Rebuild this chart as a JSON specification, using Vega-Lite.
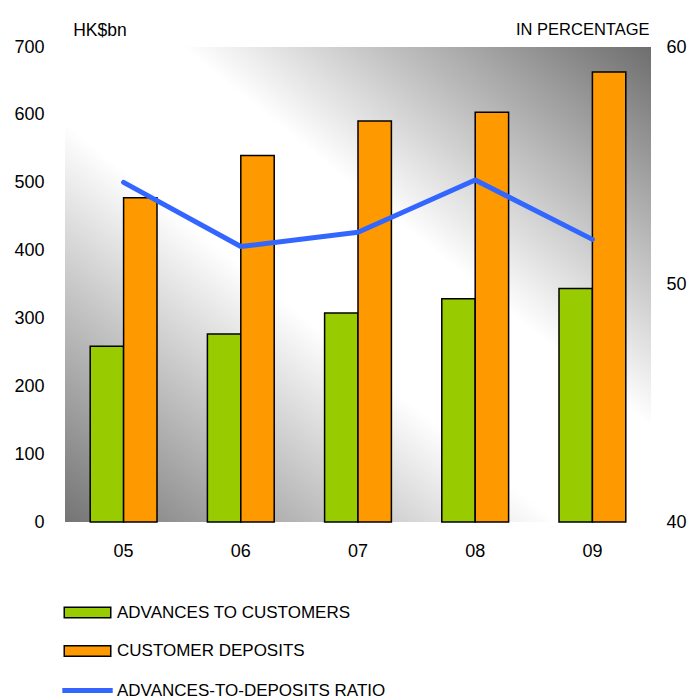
{
  "$schema": "https://vega.github.io/schema/vega-lite/v6.json",
  "width": 586,
  "height": 475,
  "autosize": {"type": "none"},
  "padding": {"left": 65, "top": 47, "right": 37, "bottom": 175},
  "background": "white",
  "config": {
    "font": "Liberation Sans",
    "view": {"stroke": null},
    "legend": {
      "orient": "none",
      "direction": "vertical",
      "title": null,
      "padding": 0,
      "symbolSize": 144,
      "labelFontSize": 17,
      "labelFont": "Liberation Sans",
      "labelColor": "black",
      "labelOffset": 21,
      "rowPadding": 20.5,
      "labelLimit": 400
    }
  },
  "datasets": {
    "bars": [
      {"year": "05", "series": "ADVANCES TO CUSTOMERS", "value": 259},
      {"year": "05", "series": "CUSTOMER DEPOSITS", "value": 478},
      {"year": "06", "series": "ADVANCES TO CUSTOMERS", "value": 277},
      {"year": "06", "series": "CUSTOMER DEPOSITS", "value": 540},
      {"year": "07", "series": "ADVANCES TO CUSTOMERS", "value": 308},
      {"year": "07", "series": "CUSTOMER DEPOSITS", "value": 591},
      {"year": "08", "series": "ADVANCES TO CUSTOMERS", "value": 329},
      {"year": "08", "series": "CUSTOMER DEPOSITS", "value": 604},
      {"year": "09", "series": "ADVANCES TO CUSTOMERS", "value": 344},
      {"year": "09", "series": "CUSTOMER DEPOSITS", "value": 663}
    ],
    "ratio": [
      {"year": "05", "metric": "ADVANCES-TO-DEPOSITS RATIO", "ratio": 54.3},
      {"year": "06", "metric": "ADVANCES-TO-DEPOSITS RATIO", "ratio": 51.6},
      {"year": "07", "metric": "ADVANCES-TO-DEPOSITS RATIO", "ratio": 52.2},
      {"year": "08", "metric": "ADVANCES-TO-DEPOSITS RATIO", "ratio": 54.4},
      {"year": "09", "metric": "ADVANCES-TO-DEPOSITS RATIO", "ratio": 51.9}
    ]
  },
  "layer": [
    {
      "data": {"values": [{"bg": 1}]},
      "mark": {
        "type": "rect",
        "color": {
          "gradient": "linear",
          "x1": 0, "y1": 1, "x2": 1, "y2": 0,
          "stops": [
            {"offset": 0, "color": "#747474"},
            {"offset": 0.42, "color": "#ffffff"},
            {"offset": 0.6, "color": "#ffffff"},
            {"offset": 1, "color": "#6e6e6e"}
          ]
        }
      },
      "encoding": {}
    },
    {
      "data": {"name": "bars"},
      "mark": {"type": "bar", "stroke": "black", "strokeWidth": 1.5, "opacity": 1},
      "encoding": {
        "x": {
          "field": "year", "type": "nominal",
          "scale": {"paddingInner": 0.43, "paddingOuter": 0.215},
          "axis": {
            "title": null, "labelAngle": 0, "domain": false, "ticks": false,
            "labelFontSize": 18, "labelColor": "black", "labelPadding": 20
          }
        },
        "xOffset": {"field": "series", "type": "nominal", "scale": {"paddingInner": 0, "paddingOuter": 0}},
        "y": {
          "field": "value", "type": "quantitative",
          "scale": {"domain": [0, 700], "nice": false},
          "axis": {
            "orient": "left", "values": [0, 100, 200, 300, 400, 500, 600, 700],
            "grid": false, "domain": false, "ticks": false,
            "labelFontSize": 18, "labelColor": "black", "labelPadding": 21,
            "title": "HK$bn", "titleAngle": 0, "titleX": 7.7, "titleY": -12,
            "titleAlign": "left", "titleBaseline": "alphabetic",
            "titleFontSize": 17.5, "titleFontWeight": "normal", "titleColor": "black"
          }
        },
        "fill": {
          "field": "series", "type": "nominal",
          "scale": {
            "domain": ["ADVANCES TO CUSTOMERS", "CUSTOMER DEPOSITS"],
            "range": ["#99cc00", "#ff9900"]
          },
          "legend": {
            "legendX": 14,
            "legendY": 557,
            "symbolType": "M-3.875,-0.89H3.875V0.89H-3.875Z",
            "symbolStrokeColor": "black",
            "symbolStrokeWidth": 1.5,
            "symbolOpacity": 1
          }
        }
      }
    },
    {
      "data": {"name": "ratio"},
      "mark": {"type": "line", "strokeWidth": 5, "strokeCap": "round", "strokeJoin": "round"},
      "encoding": {
        "x": {"field": "year", "type": "nominal"},
        "y": {
          "field": "ratio", "type": "quantitative",
          "scale": {"domain": [40, 60], "nice": false, "zero": false},
          "axis": {
            "orient": "right", "values": [40, 50, 60],
            "grid": false, "domain": false, "ticks": false,
            "labelFontSize": 18, "labelColor": "black", "labelPadding": 15,
            "title": "IN PERCENTAGE", "titleAngle": 0, "titleX": -2, "titleY": -13,
            "titleAlign": "right", "titleBaseline": "alphabetic",
            "titleFontSize": 16.5, "titleFontWeight": "normal", "titleColor": "black"
          }
        },
        "stroke": {
          "field": "metric", "type": "nominal",
          "scale": {"domain": ["ADVANCES-TO-DEPOSITS RATIO"], "range": ["#3366ff"]},
          "legend": {
            "legendX": 14,
            "legendY": 635,
            "symbolType": "M-4.2,0H4.2",
            "symbolStrokeWidth": 5,
            "symbolOpacity": 1
          }
        }
      }
    }
  ],
  "resolve": {"scale": {"y": "independent"}}
}
